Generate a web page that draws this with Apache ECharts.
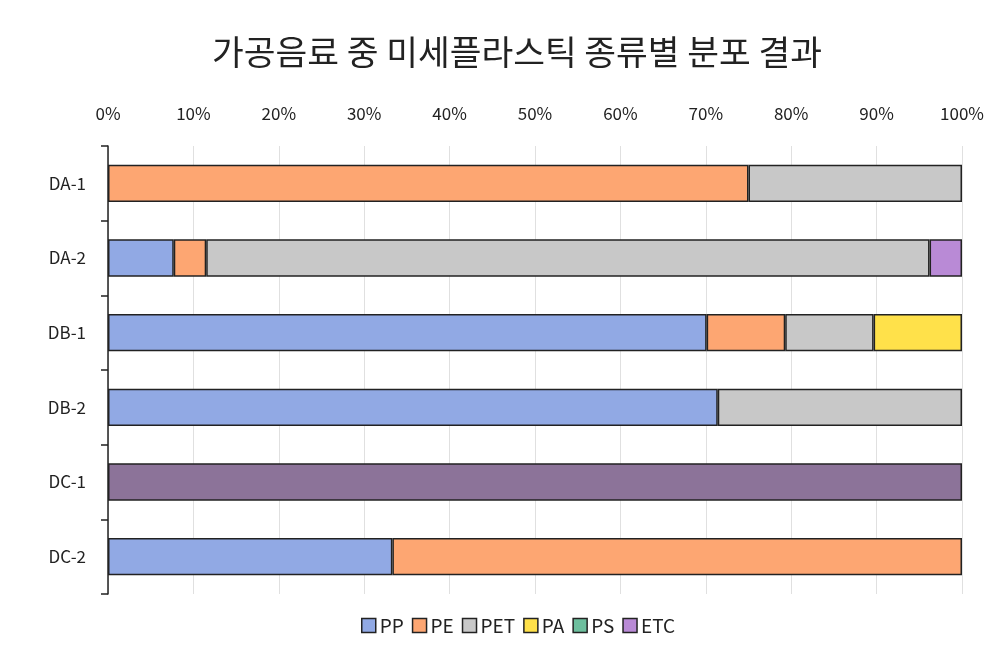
<!DOCTYPE html>
<html><head><meta charset="utf-8">
<script src="https://cdn.jsdelivr.net/npm/echarts@6/dist/echarts.min.js"></script>
<style>html,body{margin:0;padding:0;background:#fff}#c{width:993px;height:656px}</style>
</head><body><div id="c"></div>
<script>
const categories = ['DA-1','DA-2','DB-1','DB-2','DC-1','DC-2'];
const seriesNames = ['PP','PE','PET','PA','PS','ETC'];
const PP  = [0, 7.7, 70.1, 71.4, 0, 33.3];
const PE  = [75, 3.8, 9.2, 0, 0, 66.7];
const PET = [25, 84.7, 10.35, 28.6, 0, 0];
const PA  = [0, 0, 10.35, 0, 0, 0];
const PS  = [0, 0, 0, 0, 0, 0];
const ETC = [0, 3.8, 0, 0, 100, 0];
const xTicks = ['0%','10%','20%','30%','40%','50%','60%','70%','80%','90%','100%'];
const colors = ['#91a9e4','#fda672','#c8c8c8','#ffe14a','#6dbf9e','#b98ad6'];
const dc1Color = '#8c7399';

const font = '"Noto Sans CJK KR", "Noto Sans", sans-serif';
const values = [PP, PE, PET, PA, PS, ETC];
const chart = echarts.init(document.getElementById('c'), null, {renderer:'canvas'});
chart.setOption({
  animation:false,
  title:{text:'가공음료 중 미세플라스틱 종류별 분포 결과', left:512, top:30, textAlign:'center',
    textStyle:{fontFamily:font, fontSize:34.5, fontWeight:'normal', color:'#222'}},
  legend:{bottom:16, left:356, itemWidth:14, itemHeight:14, itemGap:8, icon:'rect',
    textStyle:{fontFamily:font, fontSize:19, color:'#222', padding:[0,0,0,-1]},
    itemStyle:{borderColor:'#222', borderWidth:1.5}, data:seriesNames},
  grid:{left:108, right:31, top:146, bottom:62, containLabel:false},
  xAxis:{type:'value', position:'top', min:0, max:100, interval:10,
    axisLine:{show:false}, axisTick:{show:false},
    axisLabel:{formatter:(v)=>xTicks[Math.round(v/10)], fontFamily:font, fontSize:17, color:'#222', margin:24},
    splitLine:{lineStyle:{color:'#e0e0e0', width:1}}},
  yAxis:{type:'category', inverse:true, data:categories,
    axisLine:{lineStyle:{color:'#222', width:1.5}},
    axisTick:{show:true, length:7, lineStyle:{color:'#222', width:1.5}},
    axisLabel:{fontFamily:font, fontSize:17, color:'#222', margin:22}},
  series: seriesNames.map((n,i)=>({
    name:n, type:'bar', stack:'total', barWidth:'50%',
    itemStyle:{color:colors[i], borderColor:'#222', borderWidth:1.5},
    data: values[i].map((v,j)=> (n==='ETC' && categories[j]==='DC-1') ? {value:v, itemStyle:{color:dc1Color}} : (v===0? null : v))
  }))
});
</script></body></html>
